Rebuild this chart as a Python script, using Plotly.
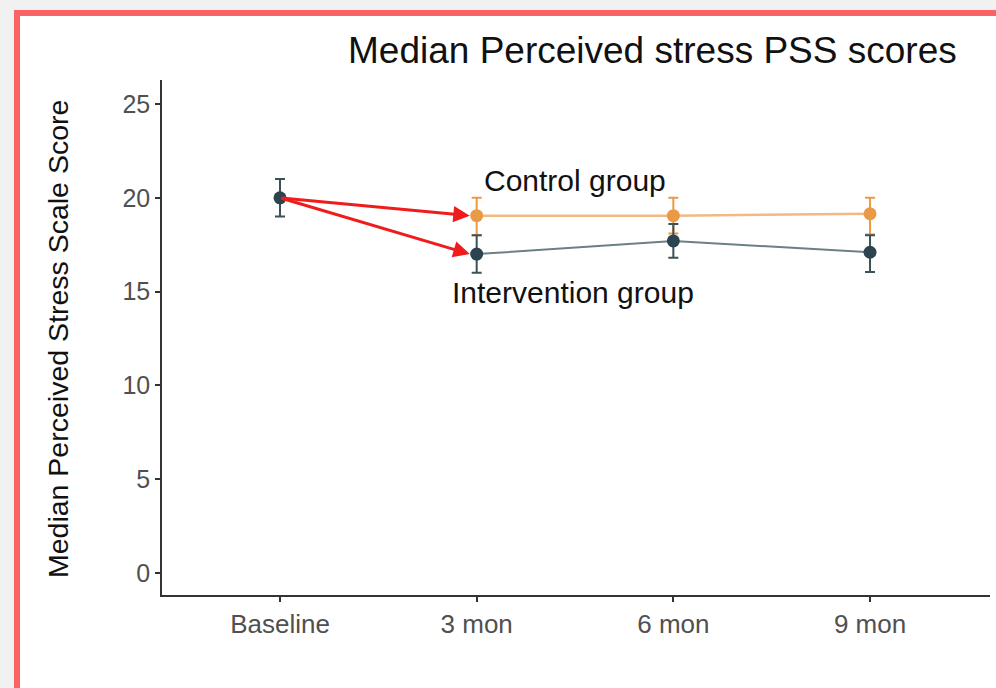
import plotly.graph_objects as go

categories = ["Baseline", "3 mon", "6 mon", "9 mon"]

baseline_value = [20.0]
baseline_upper = [21.0]
baseline_lower = [19.0]

follow_cats = ["3 mon", "6 mon", "9 mon"]
control_values = [19.05, 19.05, 19.15]
control_upper = [20.0, 20.0, 20.0]
control_lower = [18.0, 18.1, 18.05]

intervention_values = [17.0, 17.7, 17.1]
intervention_upper = [18.0, 18.6, 18.0]
intervention_lower = [16.0, 16.8, 16.05]

y_ticks = [0, 5, 10, 15, 20, 25]

FONT = "Liberation Sans, Arial, sans-serif"
ORANGE = "#e99a45"
ORANGE_LINE = "#f2b985"
DARK = "#2c4450"
DARK_LINE = "#6b7f85"
DARK_ERR = "#3c5058"

fig = go.Figure()

fig.add_trace(go.Scatter(
    x=follow_cats, y=control_values, mode="lines+markers",
    line=dict(color=ORANGE_LINE, width=2.5),
    marker=dict(color=ORANGE, size=13),
    error_y=dict(type="data", symmetric=False,
                 array=[u - v for u, v in zip(control_upper, control_values)],
                 arrayminus=[v - l for v, l in zip(control_values, control_lower)],
                 color=ORANGE, thickness=2, width=5),
    showlegend=False, hoverinfo="skip"))

fig.add_trace(go.Scatter(
    x=follow_cats, y=intervention_values, mode="lines+markers",
    line=dict(color=DARK_LINE, width=2),
    marker=dict(color=DARK, size=13),
    error_y=dict(type="data", symmetric=False,
                 array=[u - v for u, v in zip(intervention_upper, intervention_values)],
                 arrayminus=[v - l for v, l in zip(intervention_values, intervention_lower)],
                 color=DARK_ERR, thickness=2, width=5),
    showlegend=False, hoverinfo="skip"))

fig.add_trace(go.Scatter(
    x=categories[:1], y=baseline_value, mode="markers",
    marker=dict(color=DARK, size=13),
    error_y=dict(type="data", symmetric=False,
                 array=[baseline_upper[0] - baseline_value[0]],
                 arrayminus=[baseline_value[0] - baseline_lower[0]],
                 color=DARK_ERR, thickness=2, width=5),
    showlegend=False, hoverinfo="skip"))

# arrows from baseline to the 3-month points
for target in [control_values[0], intervention_values[0]]:
    fig.add_annotation(
        x=0.965, y=target, xref="x", yref="y",
        ax=0, ay=baseline_value[0], axref="x", ayref="y",
        showarrow=True, arrowhead=2, arrowsize=1.1, arrowwidth=3,
        arrowcolor="#f01c1c", text="", standoff=0, startstandoff=0)

fig.add_annotation(x=1.5, y=20.9, xref="x", yref="y", text="Control group",
                   showarrow=False, font=dict(family=FONT, size=30, color="#111111"),
                   xanchor="center", yanchor="middle")
fig.add_annotation(x=1.49, y=14.95, xref="x", yref="y", text="Intervention group",
                   showarrow=False, font=dict(family=FONT, size=30, color="#111111"),
                   xanchor="center", yanchor="middle")

# y-axis title
fig.add_annotation(x=-0.1256, y=0.497, xref="paper", yref="paper",
                   text="Median Perceived Stress Scale Score", textangle=-90,
                   showarrow=False, font=dict(family=FONT, size=28.5, color="#111111"),
                   xanchor="center", yanchor="middle")

# screenshot frame
fig.add_shape(type="rect", xref="paper", yref="paper",
              x0=-0.17512, x1=1.03, y0=-0.22, y1=1.1301,
              line=dict(color="#f96363", width=6), fillcolor="white", layer="below")

fig.update_layout(
    width=996, height=688,
    margin=dict(l=162, r=6, t=80, b=93),
    paper_bgcolor="#f1f1f1", plot_bgcolor="white",
    title=dict(text="Median Perceived stress PSS scores",
               x=0.655, xanchor="center", y=0.927, yanchor="middle",
               font=dict(family=FONT, size=37, color="#111111")),
    xaxis=dict(type="category", categoryorder="array", categoryarray=categories,
               range=[-0.6, 3.61], showgrid=False, zeroline=False,
               showline=True, linecolor="#333333", linewidth=1.5,
               ticks="outside", ticklen=5, tickwidth=1.5, tickcolor="#333333",
               tickfont=dict(family=FONT, size=26, color="#505050")),
    yaxis=dict(range=[-1.17, 26.28], tickvals=y_ticks, showgrid=False, zeroline=False,
               showline=True, linecolor="#333333", linewidth=1.5,
               ticks="outside", ticklen=5, tickwidth=1.5, tickcolor="#333333",
               tickfont=dict(family=FONT, size=25, color="#505050")),
)

fig.write_html("out.html",
               config={"displayModeBar": False},
               post_script="document.body.style.margin='0';"
                           "document.body.style.overflow='hidden';"
                           "document.body.style.background='#f1f1f1';")
